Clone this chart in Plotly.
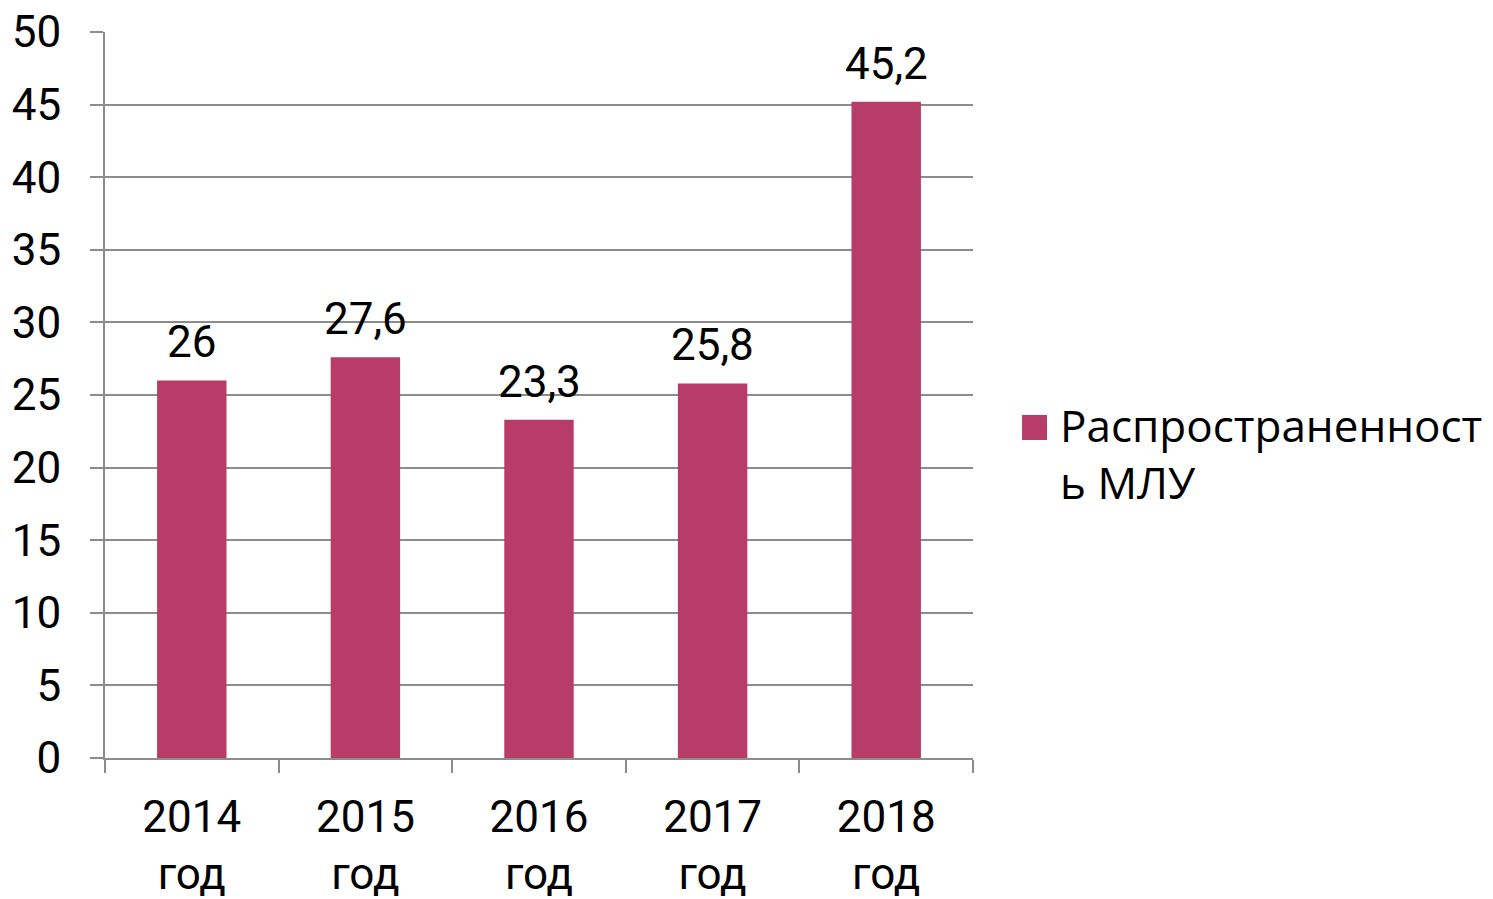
import plotly.graph_objects as go

years = ["2014", "2015", "2016", "2017", "2018"]
tick_labels = ["2014<br>год", "2015<br>год", "2016<br>год", "2017<br>год", "2018<br>год"]
values = [26, 27.6, 23.3, 25.8, 45.2]
value_labels = ["26", "27,6", "23,3", "25,8", "45,2"]
series_name = "Распространенност<br>ь МЛУ"

bar_color = "#B83C68"
grid_color = "#8C8C8C"

fig = go.Figure()
fig.add_trace(go.Bar(
    x=years, y=values, width=0.4, marker=dict(color=bar_color, line=dict(width=0)),
    name=series_name, showlegend=False,
))

# value labels above the bars
for i, (v, lbl) in enumerate(zip(values, value_labels)):
    fig.add_annotation(x=i, y=v, text=lbl, showarrow=False, yanchor="bottom", yshift=10,
                       font=dict(family="Roboto", size=44, color="black"))

# legend drawn by hand so the swatch can be as big as in the original
fig.add_shape(type="rect", xref="paper", yref="paper", x0=1.0565, x1=1.0853, y0=0.438, y1=0.4725,
              fillcolor=bar_color, line=dict(width=0))
fig.add_annotation(xref="paper", yref="paper", x=1.098, y=0.42, xanchor="left", yanchor="middle",
                   text=series_name, showarrow=False, align="left",
                   font=dict(family="Open Sans", size=44, color="black"))

fig.update_layout(
    width=1485, height=891,
    paper_bgcolor="white", plot_bgcolor="white",
    margin=dict(l=97, r=520, t=24, b=141),
    font=dict(family="Roboto", size=44, color="black"),
    showlegend=False,
    xaxis=dict(
        type="category", range=[-0.5, 4.5], tickmode="array", tickvals=years, ticktext=tick_labels,
        tickson="boundaries", ticks="outside", ticklen=13, tickcolor=grid_color, tickwidth=2,
        showline=True, linecolor=grid_color, linewidth=2, showgrid=False, tickangle=0,
        tickfont=dict(family="Roboto", size=44), ticklabelstandoff=19, automargin=False,
        ticklabeloverflow="allow",
    ),
    yaxis=dict(
        range=[0, 50], dtick=5,
        ticks="outside", ticklen=13, tickcolor=grid_color, tickwidth=2,
        showline=True, linecolor=grid_color, linewidth=2,
        showgrid=True, gridcolor=grid_color, gridwidth=2, zeroline=False,
        tickfont=dict(family="Roboto", size=44), ticklabelstandoff=20, automargin=False,
        ticklabeloverflow="allow",
    ),
)

fig.write_html("out.html")
